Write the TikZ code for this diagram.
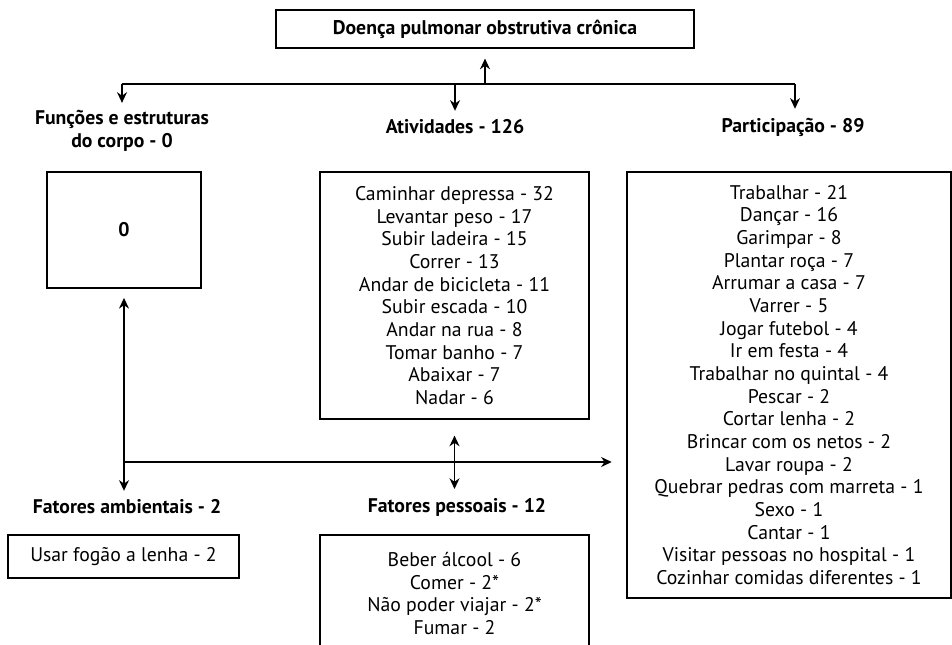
\documentclass[tikz,border=0pt]{standalone}
\usepackage{fontspec}
\setmainfont{PT Sans}
\usetikzlibrary{arrows.meta}

\begin{document}
\begin{tikzpicture}[x=0.75pt, y=-0.75pt, >={Stealth[length=8pt,width=7.5pt]}, line width=0.9pt]
    \tikzstyle{every node}=[font=\fontsize{14.8}{17}\selectfont, align=center]
    \tikzstyle{box}=[draw, inner sep=0pt]
    \tikzstyle{head}=[font=\fontsize{14.8}{17}\selectfont\bfseries]
    \useasboundingbox (0,0) rectangle (952,644);

    % top of the tree
    \node [box, minimum width=313.5pt, minimum height=28.5pt, head] (doenca) at (485,29) {Doença pulmonar obstrutiva crônica};
    \node [head] (funcoes) at (122,131) {Funções e estruturas\\do corpo - 0};
    \node [head] (atividades) at (455,127) {Atividades - 126};
    \node [head] (participacao) at (793,127) {Participação - 89};

    % boxes
    \node [box, minimum width=115.5pt, minimum height=87pt, head] (zero) at (124,230) {0};
    \node [box, minimum width=201.75pt, minimum height=185.25pt] (listatv) at (454.5,295.5) {Caminhar depressa - 32\\Levantar peso - 17\\Subir ladeira - 15\\Correr - 13\\Andar de bicicleta - 11\\Subir escada - 10\\Andar na rua - 8\\Tomar banho - 7\\Abaixar - 7\\Nadar - 6};
    \node [box, minimum width=243pt, minimum height=319.5pt] (listpart) at (789,385) {Trabalhar - 21\\Dançar - 16\\Garimpar - 8\\Plantar roça - 7\\Arrumar a casa - 7\\Varrer - 5\\Jogar futebol - 4\\Ir em festa - 4\\Trabalhar no quintal - 4\\Pescar - 2\\Cortar lenha - 2\\Brincar com os netos - 2\\Lavar roupa - 2\\Quebrar pedras com marreta - 1\\Sexo - 1\\Cantar - 1\\Visitar pessoas no hospital - 1\\Cozinhar comidas diferentes - 1};

    % contextual factors
    \node [head] (ambientais) at (127,507) {Fatores ambientais - 2};
    \node [head] (pessoais) at (457,507) {Fatores pessoais - 12};
    \node [box, minimum width=173.25pt, minimum height=32.25pt] (listamb) at (123.5,556.5) {Usar fogão a lenha - 2};
    \node [box, minimum width=201.75pt, minimum height=87.75pt] (listpess) at (454.5,593.5) {Beber álcool - 6\\Comer - 2*\\Não poder viajar - 2*\\Fumar - 2};

    % connectors
    \coordinate (hub) at (485,84);
    \coordinate (hubl) at (122,84);
    \coordinate (hubm) at (455,84);
    \coordinate (hubr) at (795,84);
    \coordinate (cross) at (124,462);
    \draw [->, shorten >=7.5pt] (hub) -- (doenca.south);
    \draw (hubl) -- (hubr);
    \draw [->, shorten >=2pt] (hubl) -- (hubl |- funcoes.north);
    \draw [->, shorten >=3pt] (hubm) -- (hubm |- atividades.north);
    \draw [->, shorten >=3pt] (hubr) -- (hubr |- participacao.north);
    \draw [<->, shorten <=7pt, shorten >=3pt] (zero.south) -- (zero.south |- ambientais.north);
    \draw [->, shorten >=11pt] (cross) -- (cross -| listpart.west);
    \draw [<->, shorten <=12pt, shorten >=3pt] (listatv.south) -- (listatv.south |- pessoais.north);

\end{tikzpicture}
\end{document}
